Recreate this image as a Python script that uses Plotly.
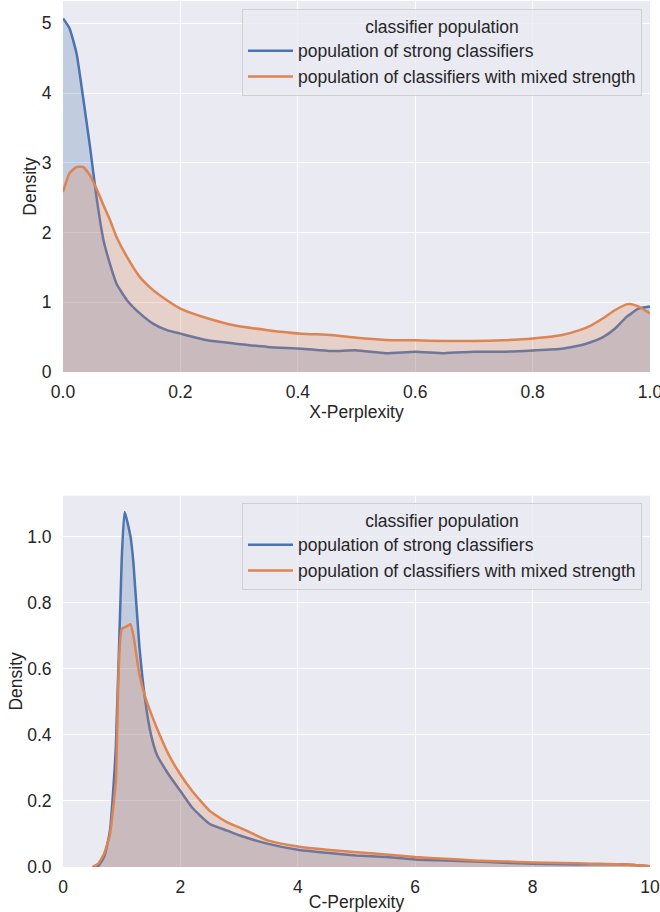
import plotly.graph_objects as go
from plotly.subplots import make_subplots

# ---- data: X-Perplexity densities ----
x_top = [0.0, 0.011, 0.023, 0.034, 0.046, 0.057, 0.069, 0.08, 0.091, 0.109, 0.131, 0.154, 0.177,
         0.2, 0.246, 0.291, 0.349, 0.406, 0.457, 0.5, 0.55, 0.6, 0.65, 0.7, 0.75, 0.8, 0.85,
         0.88, 0.9, 0.92, 0.94, 0.96, 0.97, 0.98, 1.0]
strong_top = [5.07, 4.93, 4.57, 3.95, 3.23, 2.51, 1.89, 1.55, 1.27, 1.03, 0.84, 0.69, 0.60,
              0.55, 0.455, 0.41, 0.36, 0.335, 0.30, 0.31, 0.27, 0.29, 0.27, 0.29, 0.29, 0.31, 0.335,
              0.38, 0.43, 0.50, 0.62, 0.79, 0.85, 0.91, 0.94]
mixed_top = [2.58, 2.85, 2.94, 2.94, 2.82, 2.63, 2.39, 2.18, 1.94, 1.65, 1.36, 1.17, 1.03,
             0.91, 0.77, 0.67, 0.60, 0.55, 0.53, 0.49, 0.46, 0.455, 0.445, 0.445, 0.455, 0.48, 0.53,
             0.60, 0.67, 0.77, 0.885, 0.97, 0.97, 0.94, 0.84]

# ---- data: C-Perplexity densities ----
x_bot_strong = [0.57, 0.6, 0.7, 0.8, 0.9, 1.0, 1.05, 1.15, 1.2, 1.3, 1.4, 1.5, 1.6, 1.8, 2.0,
                2.2, 2.5, 2.8, 3.0, 3.5, 4.0, 4.5, 5.0, 5.5, 6.0, 6.5, 7.0, 7.5, 8.0, 8.5,
                9.0, 9.5, 10.0]
strong_bot = [0.0, 0.003, 0.03, 0.11, 0.36, 0.93, 1.075, 1.0, 0.92, 0.67, 0.505, 0.40, 0.34,
              0.28, 0.23, 0.18, 0.13, 0.11, 0.096, 0.07, 0.052, 0.043, 0.035, 0.03, 0.023,
              0.02, 0.017, 0.013, 0.01, 0.008, 0.008, 0.008, 0.002]
x_bot_mixed = [0.5, 0.6, 0.7, 0.8, 0.9, 1.0, 1.1, 1.15, 1.2, 1.3, 1.4, 1.5, 1.6, 1.8, 2.0,
               2.2, 2.5, 2.8, 3.0, 3.5, 4.0, 4.5, 5.0, 5.5, 6.0, 6.5, 7.0, 7.5, 8.0, 8.5,
               9.0, 9.5, 10.0]
mixed_bot = [0.0, 0.01, 0.04, 0.10, 0.26, 0.72, 0.73, 0.735, 0.70, 0.585, 0.515, 0.465, 0.42,
             0.34, 0.28, 0.23, 0.17, 0.135, 0.12, 0.08, 0.062, 0.052, 0.045, 0.038, 0.03,
             0.025, 0.02, 0.017, 0.014, 0.012, 0.01, 0.008, 0.002]

names = ["population of strong classifiers", "population of classifiers with mixed strength"]
legend_title = "classifier population"
x_titles = ["X-Perplexity", "C-Perplexity"]

BLUE = "#4C72B0"
ORANGE = "#DD8452"
BLUE_F = "rgba(76,114,176,0.25)"
ORANGE_F = "rgba(221,132,82,0.25)"
FONT = "Liberation Sans, Arial, sans-serif"
TXT = "#262626"
FS = 17.5

fig = make_subplots(rows=2, cols=1)

def add(xs, ys, name, color, fcol, leg, row):
    fig.add_trace(go.Scatter(x=xs, y=ys, mode="lines", name=name, showlegend=False,
                             line=dict(color=color, width=2.5, shape="spline", smoothing=0.5),
                             fill="tozeroy", fillcolor=fcol, hoverinfo="skip"), row=row, col=1)
    # legend entry showing only the line
    fig.add_trace(go.Scatter(x=[None], y=[None], mode="lines", name=name, legend=leg,
                             line=dict(color=color, width=2.5)), row=row, col=1)

add(x_top, strong_top, names[0], BLUE, BLUE_F, "legend", 1)
add(x_top, mixed_top, names[1], ORANGE, ORANGE_F, "legend", 1)
add(x_bot_strong, strong_bot, names[0], BLUE, BLUE_F, "legend2", 2)
add(x_bot_mixed, mixed_bot, names[1], ORANGE, ORANGE_F, "legend2", 2)

H = 912
top_m, bot_m = 1, 45
ph = H - top_m - bot_m

def py(pix):
    return (H - bot_m - pix) / ph

common = dict(showgrid=True, gridcolor="white", gridwidth=1, zeroline=False,
              showline=False, automargin=False, ticklabeloverflow="allow",
              tickfont=dict(size=FS, color=TXT), title_font=dict(size=FS, color=TXT))
xcommon = dict(ticks="outside", ticklen=4, tickcolor="rgba(0,0,0,0)", **common)
ycommon = dict(ticks="outside", ticklen=7, tickcolor="rgba(0,0,0,0)", **common)

legend_common = dict(bgcolor="rgba(234,234,242,0.8)", bordercolor="#D0D0D0", borderwidth=1,
                     font=dict(size=FS, color=TXT), xanchor="right", yanchor="top",
                     x=(642 - 63) / 587, itemwidth=45)

fig.update_layout(
    width=660, height=H,
    margin=dict(l=63, r=10, t=top_m, b=bot_m),
    paper_bgcolor="white", plot_bgcolor="#EAEAF2",
    font=dict(family=FONT, size=FS, color=TXT),
    hovermode=False,
    xaxis=dict(domain=[0, 1], range=[0, 1], tickvals=[0, 0.2, 0.4, 0.6, 0.8, 1.0],
               ticktext=["0.0", "0.2", "0.4", "0.6", "0.8", "1.0"],
               title=dict(text=x_titles[0], standoff=2), **xcommon),
    yaxis=dict(domain=[py(372), 1], range=[0, 5.32], dtick=1,
               title=dict(text="Density", standoff=0), **ycommon),
    xaxis2=dict(domain=[0, 1], range=[0, 10], tickvals=[0, 2, 4, 6, 8, 10],
                title=dict(text=x_titles[1], standoff=2), **xcommon),
    yaxis2=dict(domain=[0, py(495.7)], range=[0, 1.124], dtick=0.2, tickformat=".1f",
                title=dict(text="Density", standoff=0), **ycommon),
    legend=dict(title=dict(text=legend_title, side="top center", font=dict(size=FS)),
                y=py(9), **legend_common),
    legend2=dict(title=dict(text=legend_title, side="top center", font=dict(size=FS)),
                 y=py(503), **legend_common),
)

fig.write_html("out.html", config={"displayModeBar": False},
               post_script="document.body.style.margin='0';")
